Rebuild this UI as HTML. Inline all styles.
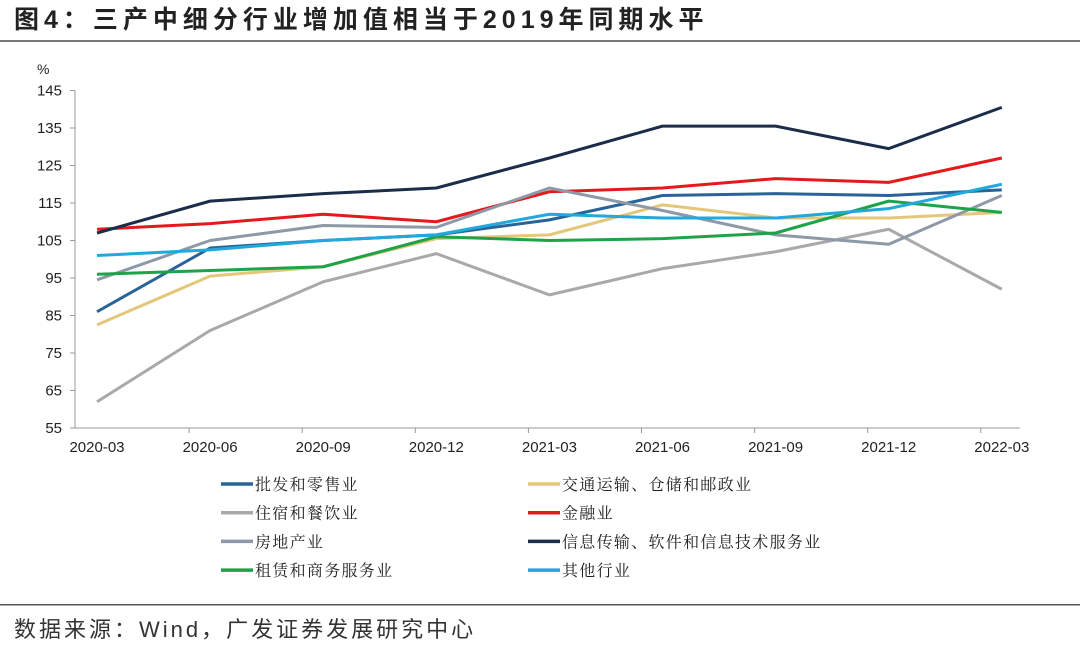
<!DOCTYPE html>
<html><head><meta charset="utf-8"><style>
body{margin:0;background:#fff;width:1080px;height:651px;overflow:hidden;font-family:"Liberation Sans","Noto Sans CJK SC",sans-serif}
</style></head><body>
<svg width="1080" height="651" style="position:absolute;left:0;top:0">
<text x="14" y="28" font-size="25" font-weight="bold" fill="#222" letter-spacing="5" font-family="Liberation Sans,Noto Sans CJK SC,sans-serif">图4：三产中细分行业增加值相当于2019年同期水平</text>
<rect x="0" y="40" width="1080" height="2" fill="#777"/>
<rect x="0" y="604" width="1080" height="1.5" fill="#555"/>
<text x="14" y="637" font-size="22" fill="#333" letter-spacing="3" font-family="Liberation Sans,Noto Sans CJK SC,sans-serif">数据来源：Wind，广发证券发展研究中心</text>
<text x="37" y="74" font-size="14" fill="#222">%</text>
<g id="axes"></g><g id="series"></g><g id="legend"></g>
</svg>
<script>
const categories=["2020-03","2020-06","2020-09","2020-12","2021-03","2021-06","2021-09","2021-12","2022-03"];
const yTicks=[55,65,75,85,95,105,115,125,135,145];
const names=["批发和零售业","交通运输、仓储和邮政业","住宿和餐饮业","金融业","房地产业","信息传输、软件和信息技术服务业","租赁和商务服务业","其他行业"];
const colors=["#2a6397","#e3c77a","#a9a9a9","#e41a1c","#8e99a8","#1c2d4a","#1fa34a","#22a8dc"];
const sWholesale=[86,103,105,106.5,110.5,117,117.5,117,118.5];
const sTransport=[82.5,95.5,98,105.5,106.5,114.5,111,111,112.5];
const sHotel=[62,81,94,101.5,90.5,97.5,102,108,92];
const sFinance=[108,109.5,112,110,118,119,121.5,120.5,127];
const sRealEstate=[94.5,105,109,108.5,119,113,106.5,104,117];
const sIT=[107,115.5,117.5,119,127,135.5,135.5,129.5,140.5];
const sLeasing=[96,97,98,106,105,105.5,107,115.5,112.5];
const sOther=[101,102.5,105,106.5,112,111,111,113.5,120];
const series=[sWholesale,sTransport,sHotel,sFinance,sRealEstate,sIT,sLeasing,sOther];
const NS="http://www.w3.org/2000/svg";
const x=i=>97+i*113.1;
const y=v=>428-(v-55)*(337.5/90);
function mk(t,a,p){const e=document.createElementNS(NS,t);for(const k in a)e.setAttribute(k,a[k]);p.appendChild(e);return e;}
const ax=document.getElementById('axes');
let l=mk('line',{x1:75,y1:y(145),x2:75,y2:y(55),stroke:'#999','stroke-width':1},ax);


l=mk('line',{x1:75,y1:y(55),x2:1020,y2:y(55),stroke:'#999','stroke-width':1},ax);


yTicks.forEach(v=>{
 mk('line',{x1:70,x2:75,y1:y(v),y2:y(v),stroke:'#999'},ax);
 const t=mk('text',{x:62,y:y(v)+5,'font-size':15,'text-anchor':'end',fill:'#222'},ax);t.textContent=v;
 
 
});
categories.forEach((c,i)=>{
 mk('line',{x1:x(i)-21+113.1,x2:x(i)-21+113.1,y1:y(55),y2:y(55)+5,stroke:'#999'},ax);
 const t=mk('text',{x:x(i),y:y(55)+24,'font-size':15,'text-anchor':'middle',fill:'#222'},ax);t.textContent=c;
 
 
});
const sg=document.getElementById('series');
series.forEach((s,k)=>{
 const p=mk('polyline',{points:s.map((v,i)=>x(i)+','+y(v)).join(' '),fill:'none',stroke:colors[k],'stroke-width':3,'stroke-linejoin':'round'},sg);
 
 
});
const lg=document.getElementById('legend');
names.forEach((n,k)=>{
 const cx=k%2?528:221, cy=484+Math.floor(k/2)*28.7;
 const g=mk('g',{},lg);
 
 
 mk('line',{x1:cx,x2:cx+32,y1:cy,y2:cy,stroke:colors[k],'stroke-width':3.5},g);
 const t=mk('text',{x:cx+34,y:cy+6,'font-size':16,fill:'#222','letter-spacing':'1.3','font-family':'Noto Serif CJK SC,serif'},g);t.textContent=n;
});
</script>
</body></html>
